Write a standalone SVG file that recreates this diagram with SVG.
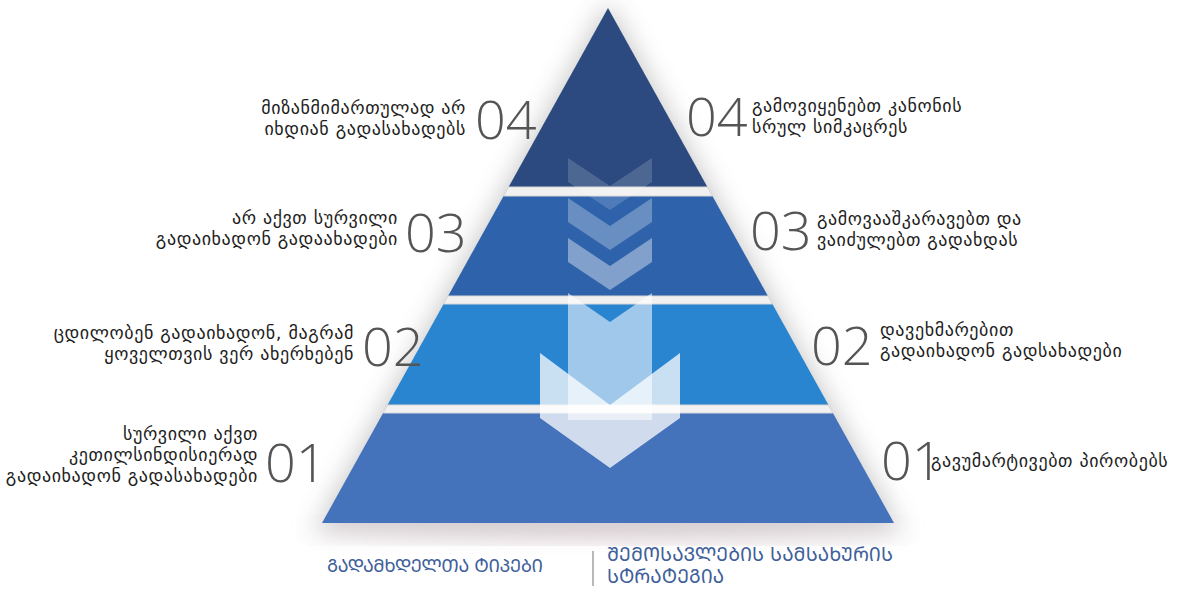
<svg xmlns="http://www.w3.org/2000/svg" width="1195" height="589" viewBox="0 0 1195 589">
<defs>
<style>
.lbl{font-family:"DejaVu Sans","Noto Sans Georgian",sans-serif;font-size:18px;letter-spacing:0.6px;fill:#1e1e1e}
.num{font-family:"Open Sans","Lato",sans-serif;font-weight:300;font-size:54px;fill:#555555}
.cap{font-family:"DejaVu Sans","Noto Sans Georgian",sans-serif;font-size:19px;fill:#40609a}
.band{fill:#f1f1f1;stroke:#d6d6d6;stroke-width:1}
</style>
<filter id="sh" x="-30%" y="-30%" width="160%" height="160%">
<feGaussianBlur stdDeviation="12"/>
</filter>
</defs>
<rect width="1195" height="589" fill="#ffffff"/>
<g id="shadow">
<polygon points="608,2 900,528 316,528" fill="#8a8a8a" opacity="0.45" filter="url(#sh)"/>
<ellipse cx="608" cy="530" rx="300" ry="10" fill="#cdb9bf" opacity="0.6" filter="url(#sh)"/>
</g>
<g id="tier4"><polygon points="608,8 707.4,187 508.6,187" fill="#2c4a7f"/></g>
<g id="tier3"><polygon points="503.6,196 712.4,196 767.9,296 448.1,296" fill="#2e63ab"/></g>
<g id="tier2"><polygon points="443.6,304 772.4,304 828.5,405 387.5,405" fill="#2a85d0"/></g>
<g id="tier1"><polygon points="383.1,413 832.9,413 894,523 322,523" fill="#4472bb"/></g>
<g id="bands">
<polygon class="band" points="508.6,187 707.4,187 712.4,196 503.6,196"/>
<polygon class="band" points="448.1,296 767.9,296 772.4,304 443.6,304"/>
<polygon class="band" points="387.5,405 828.5,405 832.9,413 383.1,413"/>
</g>
<g id="arrows" fill="#ffffff">
<polygon points="568,158 610,186 652,158 652,182 610,210 568,182" opacity="0.16"/>
<polygon points="568,198 610,226 652,198 652,222 610,250 568,222" opacity="0.28"/>
<polygon points="568,238 610,266 652,238 652,262 610,290 568,262" opacity="0.4"/>
<polygon points="568,293 610,322 652,293 652,420 568,420" opacity="0.55"/>
<polygon points="540,353 610,405 680,353 680,418 610,468 540,418" opacity="0.75"/>
</g>
<g id="label-left-04">
<text class="num" x="475" y="139">04</text>
<text class="lbl" text-anchor="end" x="466" y="114">მიზანმიმართულად არ</text>
<text class="lbl" text-anchor="end" x="466" y="135">იხდიან გადასახადებს</text>
</g>
<g id="label-right-04">
<text class="num" x="686" y="136">04</text>
<text class="lbl" x="752" y="112">გამოვიყენებთ კანონის</text>
<text class="lbl" x="752" y="133">სრულ სიმკაცრეს</text>
</g>
<g id="label-left-03">
<text class="num" x="405" y="252">03</text>
<text class="lbl" text-anchor="end" x="398" y="224">არ აქვთ სურვილი</text>
<text class="lbl" text-anchor="end" x="398" y="245">გადაიხადონ გადაახადები</text>
</g>
<g id="label-right-03">
<text class="num" x="750" y="250">03</text>
<text class="lbl" x="817" y="225">გამოვააშკარავებთ და</text>
<text class="lbl" x="817" y="246">ვაიძულებთ გადახდას</text>
</g>
<g id="label-left-02">
<text class="num" x="362" y="366">02</text>
<text class="lbl" text-anchor="end" x="354" y="339">ცდილობენ გადაიხადონ, მაგრამ</text>
<text class="lbl" text-anchor="end" x="354" y="360">ყოველთვის ვერ ახერხებენ</text>
</g>
<g id="label-right-02">
<text class="num" x="811" y="365">02</text>
<text class="lbl" x="880" y="336">დავეხმარებით</text>
<text class="lbl" x="880" y="357">გადაიხადონ გადსახადები</text>
</g>
<g id="label-left-01">
<text class="num" x="265" y="482">01</text>
<text class="lbl" text-anchor="end" x="258" y="440">სურვილი აქვთ</text>
<text class="lbl" text-anchor="end" x="258" y="461">კეთილსინდისიერად</text>
<text class="lbl" text-anchor="end" x="258" y="482">გადაიხადონ გადასახადები</text>
</g>
<g id="label-right-01">
<text class="num" x="881" y="480">01</text>
<text class="lbl" x="931" y="467">გავუმარტივებთ პირობებს</text>
</g>
<g id="footer">
<text class="cap" x="327" y="572" style="font-size:18px;letter-spacing:-0.4px">ᲒᲐᲓᲐᲛᲮᲓᲔᲚᲗᲐ ᲢᲘᲞᲔᲑᲘ</text>
<line x1="593" y1="551" x2="593" y2="586" stroke="#8a8a8a" stroke-width="1.2"/>
<text class="cap" x="607" y="561">ᲨᲔᲛᲝᲡᲐᲕᲚᲔᲑᲘᲡ ᲡᲐᲛᲡᲐᲮᲣᲠᲘᲡ</text>
<text class="cap" x="607" y="583">ᲡᲢᲠᲐᲢᲔᲒᲘᲐ</text>
</g>
</svg>
